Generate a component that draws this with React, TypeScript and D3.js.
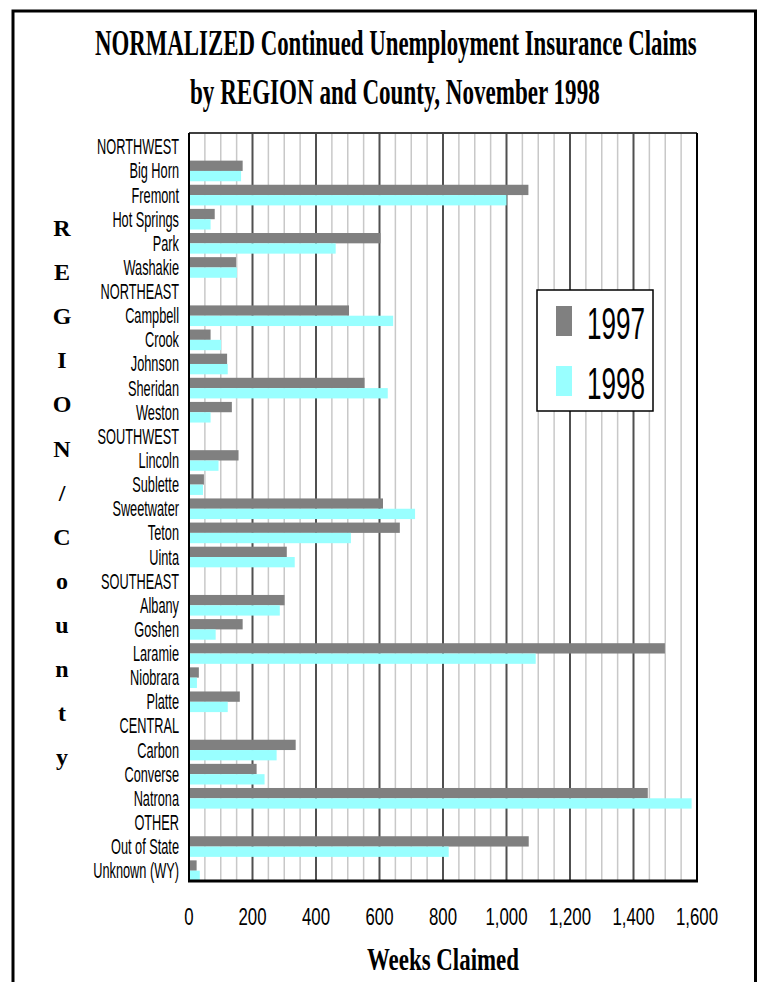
import React, { useLayoutEffect, useRef, useState } from "react";
import * as d3 from "d3";

const categories = [
  "NORTHWEST", "Big Horn", "Fremont", "Hot Springs", "Park", "Washakie",
  "NORTHEAST", "Campbell", "Crook", "Johnson", "Sheridan", "Weston",
  "SOUTHWEST", "Lincoln", "Sublette", "Sweetwater", "Teton", "Uinta",
  "SOUTHEAST", "Albany", "Goshen", "Laramie", "Niobrara", "Platte",
  "CENTRAL", "Carbon", "Converse", "Natrona",
  "OTHER", "Out of State", "Unknown (WY)",
];

const values1997: (number | null)[] = [
  null, 169, 1069, 81, 603, 148,
  null, 504, 68, 120, 553, 135,
  null, 156, 47, 611, 664, 308,
  null, 301, 169, 1499, 31, 160,
  null, 336, 213, 1445,
  null, 1070, 24,
];

const values1998: (number | null)[] = [
  null, 164, 1000, 68, 462, 151,
  null, 643, 101, 122, 626, 68,
  null, 93, 44, 712, 510, 333,
  null, 286, 84, 1092, 25, 122,
  null, 276, 238, 1583,
  null, 818, 34,
];

const seriesNames = ["1997", "1998"];
const seriesColors = ["#808080", "#99ffff"];
const xTicksMajor = [0, 200, 400, 600, 800, 1000, 1200, 1400, 1600];
const yTitleLetters = ["R", "E", "G", "I", "O", "N", "/", "C", "o", "u", "n", "t", "y"];
const titleLines = [
  "NORMALIZED Continued Unemployment Insurance Claims",
  "by REGION and County, November 1998",
];

const serif = "'Liberation Serif', 'Times New Roman', serif";
const narrow = "'Liberation Sans', Arial, sans-serif";

function FitText(props: { x: number; y: number; width: number; size: number; children: string }) {
  const ref = useRef<SVGTextElement>(null);
  const [sx, setSx] = useState(1);
  useLayoutEffect(() => {
    if (ref.current) {
      const w = ref.current.getComputedTextLength();
      if (w > 0) setSx(props.width / w);
    }
  }, [props.width, props.children]);
  return (
    <g transform={`translate(${props.x},${props.y}) scale(${sx},1)`}>
      <text ref={ref} x={0} y={0} fontFamily={serif} fontWeight="bold" fontSize={props.size} fill="#000">
        {props.children}
      </text>
    </g>
  );
}

export default function App() {
  const W = 759, H = 982;
  const left = 189, right = 697, top = 133, bottom = 881;
  const x = d3.scaleLinear().domain([0, 1600]).range([left, right]);
  const y = d3.scaleBand<string>().domain(categories).range([top, bottom]);
  const bw = y.bandwidth();
  const pad = 3.5;
  const barH = (bw - pad) / 2;
  const minor = x.ticks(32);
  const fmt = d3.format(",");

  return (
    <svg width={W} height={H} style={{ position: "absolute", left: 0, top: 0, background: "#fff" }}>
      <rect x={0} y={0} width={W} height={H} fill="#fff" />
      {/* outer frame */}
      <path d={`M13,${H + 5} V11 H755.5 V${H + 5}`} fill="none" stroke="#000" strokeWidth={3} />

      {/* title */}
      <FitText x={95} y={55} width={602} size={35}>{titleLines[0]}</FitText>
      <FitText x={190} y={104} width={410} size={35}>{titleLines[1]}</FitText>

      {/* gridlines */}
      {minor.filter((t) => t % 200 !== 0).map((t) => (
        <line key={"m" + t} x1={x(t)} x2={x(t)} y1={top} y2={bottom} stroke="#c8c8c8" strokeWidth={1.5} />
      ))}
      {xTicksMajor.filter((t) => t > 0 && t < 1600).map((t) => (
        <line key={"M" + t} x1={x(t)} x2={x(t)} y1={top} y2={bottom} stroke="#505050" strokeWidth={2} />
      ))}
      <line x1={left} x2={right} y1={top} y2={top} stroke="#404040" strokeWidth={2} />
      <line x1={right} x2={right} y1={top} y2={bottom} stroke="#000" strokeWidth={2} />

      {/* bars */}
      {categories.map((c, i) => {
        const y0 = (y(c) as number) + pad;
        return (
          <g key={c}>
            {values1997[i] != null && (
              <rect x={x(0)} y={y0} width={x(values1997[i] as number) - x(0)} height={barH} fill={seriesColors[0]} />
            )}
            {values1998[i] != null && (
              <rect x={x(0)} y={y0 + barH} width={x(values1998[i] as number) - x(0)} height={barH} fill={seriesColors[1]} />
            )}
          </g>
        );
      })}

      {/* axes */}
      <line x1={left} x2={left} y1={top} y2={bottom} stroke="#000" strokeWidth={2} />
      <line x1={left - 1} x2={right + 1} y1={bottom} y2={bottom} stroke="#000" strokeWidth={3} />

      {/* category labels */}
      {categories.map((c) => {
        const cy = (y(c) as number) + pad + barH;
        return (
          <g key={"l" + c} transform={`translate(179,${cy + 7.5}) scale(0.58,1)`}>
            <text x={0} y={0} textAnchor="end" fontFamily={narrow} fontSize={22} fill="#000">{c}</text>
          </g>
        );
      })}

      {/* x tick labels */}
      {xTicksMajor.map((t) => (
        <g key={"t" + t} transform={`translate(${x(t)},925) scale(0.7,1)`}>
          <text x={0} y={0} textAnchor="middle" fontFamily={narrow} fontSize={24} fill="#000">{fmt(t)}</text>
        </g>
      ))}

      {/* x axis title */}
      <FitText x={367} y={970} width={152} size={32}>Weeks Claimed</FitText>

      {/* y axis title */}
      {yTitleLetters.map((ch, i) => (
        <text key={"y" + i} x={62} y={236 + i * 44.1} textAnchor="middle" fontFamily={serif} fontWeight="bold" fontSize={24}>{ch}</text>
      ))}

      {/* legend */}
      <rect x={537} y={290} width={116} height={121} fill="#fff" stroke="#000" strokeWidth={1.5} />
      {seriesNames.map((s, i) => (
        <g key={s}>
          <rect x={556} y={306 + i * 60} width={16} height={30} fill={seriesColors[i]} />
          <g transform={`translate(587,${339 + i * 59.5}) scale(0.58,1)`}>
            <text x={0} y={0} fontFamily={narrow} fontSize={45} fill="#000">{s}</text>
          </g>
        </g>
      ))}
    </svg>
  );
}
